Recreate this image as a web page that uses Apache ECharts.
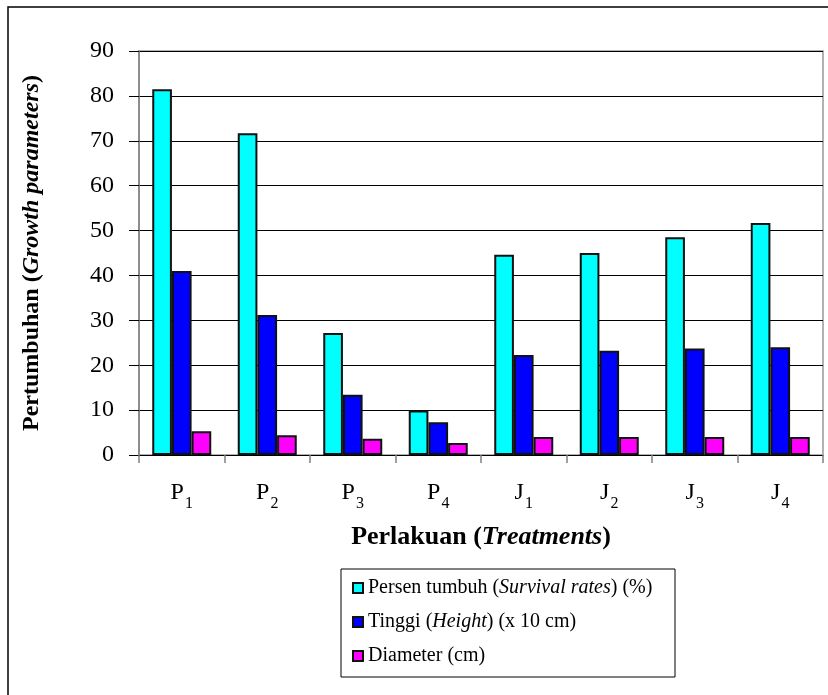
<!DOCTYPE html>
<html>
<head>
<meta charset="utf-8">
<script src="https://cdn.jsdelivr.net/npm/echarts@6/dist/echarts.min.js"></script>
<style>
  html, body { margin: 0; padding: 0; background: #fff; }
  #chart { width: 828px; height: 695px; }
</style>
</head>
<body>
<div id="chart"></div>
<script>
// Treatments on the x axis
const treatments = ['P1', 'P2', 'P3', 'P4', 'J1', 'J2', 'J3', 'J4'];

// Series names (legend)
const seriesNames = [
  'Persen tumbuh (Survival rates) (%)',
  'Tinggi (Height) (x 10 cm)',
  'Diameter (cm)'
];

// Growth parameters per treatment
const survivalRates = [81.5, 71.7, 27.2, 9.9, 44.6, 45.0, 48.5, 51.7];
const heightX10cm  = [41.0, 31.2, 13.4, 7.3, 22.3, 23.2, 23.7, 24.0];
const diameterCm   = [5.3, 4.4, 3.6, 2.7, 4.0, 4.0, 4.0, 4.0];

// Y tick values
const yTicks = [0, 10, 20, 30, 40, 50, 60, 70, 80, 90];

const FONT = '"Liberation Serif", "Times New Roman", serif';
const colors = ['#00FFFF', '#0000FF', '#FF00FF'];

// Legend labels with italic parts
const legendRich = {
  'Persen tumbuh (Survival rates) (%)': 'Persen tumbuh ({i|Survival rates}) (%)',
  'Tinggi (Height) (x 10 cm)': 'Tinggi ({i|Height}) (x 10 cm)',
  'Diameter (cm)': 'Diameter (cm)'
};

const chart = echarts.init(document.getElementById('chart'), null, { renderer: 'canvas' });

const values = [survivalRates, heightX10cm, diameterCm];

const option = {
  animation: false,
  backgroundColor: '#fff',
  textStyle: { fontFamily: FONT, color: '#000' },
  grid: {
    left: 139, top: 51, right: 5, bottom: 240,
    show: true, borderColor: '#999', borderWidth: 1.5, backgroundColor: 'transparent'
  },
  legend: {
    orient: 'vertical',
    left: 352, top: 577,
    padding: 0,
    itemWidth: 10, itemHeight: 10, itemGap: 12,
    icon: 'rect',
    data: seriesNames,
    formatter: n => legendRich[n],
    textStyle: {
      fontFamily: FONT, fontSize: 20, lineHeight: 22, color: '#000',
      rich: { i: { fontStyle: 'italic', fontFamily: FONT, fontSize: 20, lineHeight: 22, color: '#000' } }
    }
  },
  xAxis: {
    type: 'category',
    data: treatments,
    boundaryGap: true,
    name: 'Perlakuan ({i|Treatments})',
    nameLocation: 'middle',
    nameGap: 69,
    nameTextStyle: {
      fontFamily: FONT, fontSize: 26, fontWeight: 'bold', color: '#000',
      rich: { i: { fontFamily: FONT, fontSize: 26, fontWeight: 'bold', fontStyle: 'italic', color: '#000' } }
    },
    axisLine: { lineStyle: { color: '#000', width: 1 } },
    axisTick: { show: true, length: 8, lineStyle: { color: '#808080', width: 1.5 } },
    axisLabel: {
      margin: 22,
      formatter: v => '{m|' + v[0] + '}{s|' + v.slice(1) + '}',
      rich: {
        m: { fontFamily: FONT, fontSize: 24, color: '#000', verticalAlign: 'bottom', lineHeight: 28 },
        s: { fontFamily: FONT, fontSize: 16, color: '#000', verticalAlign: 'bottom', lineHeight: 28, padding: [0, 0, -7, 1] }
      }
    }
  },
  yAxis: {
    type: 'value',
    min: yTicks[0], max: yTicks[yTicks.length - 1], interval: 10,
    name: 'Pertumbuhan ({i|Growth parameters})',
    nameLocation: 'middle',
    nameRotate: 90,
    nameGap: 95,
    nameTextStyle: {
      fontFamily: FONT, fontSize: 24, fontWeight: 'bold', color: '#000',
      rich: { i: { fontFamily: FONT, fontSize: 24, fontWeight: 'bold', fontStyle: 'italic', color: '#000' } }
    },
    axisLine: { show: true, lineStyle: { color: '#808080', width: 1.5 } },
    axisTick: { show: true, inside: false, length: 10, lineStyle: { color: '#000', width: 1 } },
    axisLabel: { margin: 25, fontFamily: FONT, fontSize: 24, color: '#000' },
    splitLine: { show: true, lineStyle: { color: '#000', width: 1 } }
  },
  series: seriesNames.map((name, k) => ({
    name,
    type: 'bar',
    data: values[k],
    barGap: '0%',
    barCategoryGap: '31%',
    itemStyle: { color: colors[k], borderColor: '#111', borderWidth: 2 }
  })),
  graphic: [
    {
      type: 'rect', silent: true, z: -1,
      shape: { x: 8, y: 7, width: 840, height: 720 },
      style: { fill: 'none', stroke: '#000', lineWidth: 1.5 }
    },
    {
      type: 'rect', silent: true,
      shape: { x: 341, y: 569, width: 334, height: 108 },
      style: { fill: 'none', stroke: '#000', lineWidth: 1 }
    }
  ]
};

chart.setOption(option);
</script>
</body>
</html>
